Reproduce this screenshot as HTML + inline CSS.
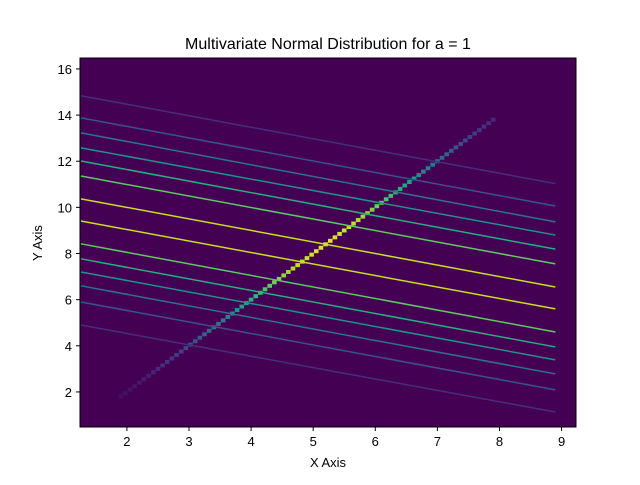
<!DOCTYPE html>
<html><head><meta charset="utf-8"><style>
body{margin:0;background:#fff;font-family:"Liberation Sans",sans-serif}
</style></head><body>
<svg id="chart" width="640" height="480" xmlns="http://www.w3.org/2000/svg" font-family="Liberation Sans, sans-serif">
<rect width="640" height="480" fill="#fff"/>
<text x="328" y="49" text-anchor="middle" font-size="16">Multivariate Normal Distribution for a = 1</text>
<rect x="80" y="58" width="496" height="369" fill="#440154"/>
<g id="cells"></g><g id="lines"></g>
<rect x="80" y="58" width="496" height="369" fill="none" stroke="#000" stroke-width="1"/>
<g id="ticks" font-size="13"></g>
<text x="328" y="467" text-anchor="middle" font-size="13">X Axis</text>
<text x="42" y="243" text-anchor="middle" font-size="13" transform="rotate(-90 42 243)">Y Axis</text>
</svg>
<script>
const xTicks=[2,3,4,5,6,7,8,9];
const yTicks=[2,4,6,8,10,12,14,16];
const lineX0=[1.26];
const lineX1=[8.9];
const lineLeftY=[14.84,13.88,13.23,12.58,12.01,11.36,10.37,9.41,8.42,7.77,7.2,6.6,5.9,4.9];
const lineRightY=[11.03,10.06,9.37,8.8,8.19,7.55,6.55,5.6,4.6,3.95,3.39,2.78,2.09,1.13];
const lineLevel=[0,1,2,3,4,5,6,6,5,4,3,2,1,0];
const palette=["#472d7b","#3b528b","#2c728e","#21918c","#28ae80","#5ec962","#c8e020"];
const diagStart=[1.9,1.8];
const diagEnd=[7.9,13.8];
const diagPeak=[0.55];
const diagSpread=[0.307];
const viridis=[[68,1,84],[72,40,120],[62,73,137],[49,104,142],[38,130,142],[31,158,137],[53,183,121],[110,206,88],[181,222,43],[253,231,37]];
function vcol(t){t=Math.max(0,Math.min(1,t))*9;const i=Math.min(8,Math.floor(t)),f=t-i,a=viridis[i],b=viridis[i+1];
return 'rgb('+a.map((c,k)=>Math.round(c+(b[k]-c)*f)).join(',')+')';}
const X=v=>80+(v-1.245)*62.1, Y=v=>427-(v-0.48)*23.07;
const NS="http://www.w3.org/2000/svg";
const mk=(t,a,p)=>{const e=document.createElementNS(NS,t);for(const k in a)e.setAttribute(k,a[k]);p.appendChild(e);return e;};
const tk=document.getElementById('ticks');
xTicks.forEach(v=>{
const l=mk('line',{x1:X(v),x2:X(v),y1:427,y2:431,stroke:'#000'},tk);


const t=mk('text',{x:X(v),y:446,'text-anchor':'middle'},tk);t.textContent=v;


});
yTicks.forEach(v=>{
const l=mk('line',{x1:76,x2:80,y1:Y(v),y2:Y(v),stroke:'#000'},tk);


const t=mk('text',{x:72,y:Y(v)+5,'text-anchor':'end'},tk);t.textContent=v;


});
const cg=document.getElementById('cells');
const n=80;
for(let i=0;i<=n;i++){
const f=i/n, x=diagStart[0]+(diagEnd[0]-diagStart[0])*f, y=diagStart[1]+(diagEnd[1]-diagStart[1])*f;
const d=(f-diagPeak[0])/diagSpread[0];
const val=Math.exp(-d*d)*0.95;
const r=mk('rect',{x:X(x)-2.3,y:Y(y)-2,width:4.6,height:4,fill:vcol(val)},cg);


}
const lg=document.getElementById('lines');
lineLeftY.forEach((v,i)=>{
const l=mk('line',{x1:X(lineX0[0]),y1:Y(v),x2:X(lineX1[0]),y2:Y(lineRightY[i]),stroke:palette[lineLevel[i]],'stroke-width':1.5},lg);


});
</script>
</body></html>
